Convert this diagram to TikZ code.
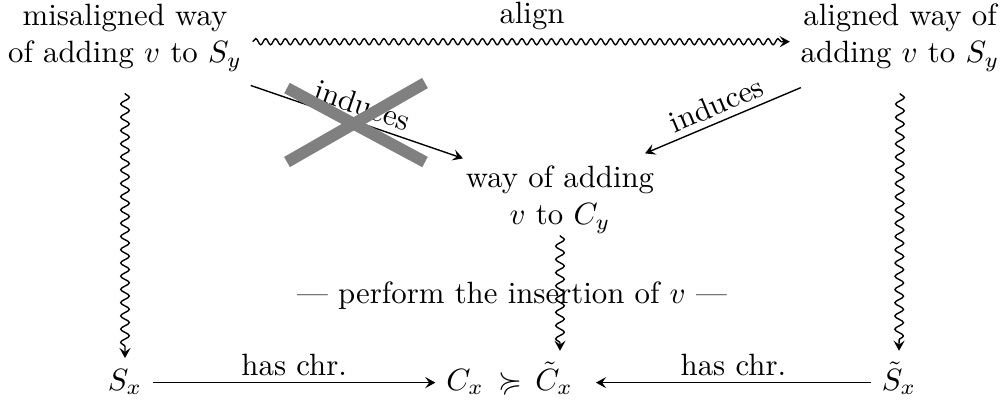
\documentclass[tikz,border=0pt]{standalone}
\usepackage{amssymb}
\usetikzlibrary{arrows.meta,decorations.pathmorphing,calc}
\tikzset{
  cmarrow/.style={-{Stealth[length=3.3pt, width=3.6pt, inset=1.3pt]}, line width=0.45pt},
  hsquig/.style={cmarrow, decorate, decoration={snake, amplitude=1pt, segment length=3.2pt, post length=2pt}},
  vsquig/.style={cmarrow, decorate, decoration={snake, amplitude=1.4pt, segment length=4.3pt, post length=2pt}},
  lbl/.style={inner sep=2pt},
  crossbar/.style={line width=3.8pt, gray},
  txt/.style={align=center},
}
\begin{document}
\begin{tikzpicture}[x=0.01141cm, y=-0.01141cm]
\useasboundingbox (0,0) rectangle (1003,402);
% nodes
\node[txt] (mis) at (125,38) {misaligned way\\of adding $v$ to $S_y$};
\node[txt] (ali) at (900,38) {aligned way of\\adding $v$ to $S_y$};
\node[txt] (mid) at (560,200) {way of adding\\$v$ to $C_y$};
\node[anchor=base] (Sx) at (125,390) {$S_x$};
\node[anchor=base] (Cx) at (465,390) {$C_x$};
\node[anchor=base] (rel) at (510,390) {$\succcurlyeq$};
\node[anchor=base] (Ctx) at (554,390) {$\tilde{C}_x$};
\node[anchor=base] (Stx) at (899,390) {$\tilde{S}_x$};
\node (perf) at (512,296) {--- perform the insertion of $v$ ---};
% connectors
\draw[hsquig] ([yshift=-1.2pt]mis.east) -- node[above, lbl, pos=0.52, yshift=1.5pt] {align} ([yshift=-1.2pt]ali.west);
\draw[vsquig] ([yshift=-3.5pt]mis.south) -- (Sx.north);
\draw[vsquig] ([yshift=-3.5pt]ali.south) -- (Stx.north);
\draw[vsquig] ([yshift=3pt]mid.south) -- (mid.south |- Ctx.north);
\draw[cmarrow] ([yshift=2.4pt]Sx.base east) -- node[above, lbl] {has chr.} ([yshift=2.4pt]Cx.base west);
\draw[cmarrow] ([yshift=2.4pt]Stx.base west) -- node[above, lbl] {has chr.} ([yshift=2.4pt,xshift=4pt]Ctx.base east);
\draw[cmarrow] ($(mis.south east)+(-2,3)$) -- node[above, sloped, lbl] {induces} ($(mid.north west)+(8,3)$);
\draw[cmarrow] ($(ali.south west)+(11,5)$) -- node[above, sloped, lbl] {induces} ($(mid.north east)+(-20,-2)$);
% cross
\draw[crossbar] (287,88) -- (425,162);
\draw[crossbar] (287,162) -- (425,83);
\end{tikzpicture}
\end{document}
